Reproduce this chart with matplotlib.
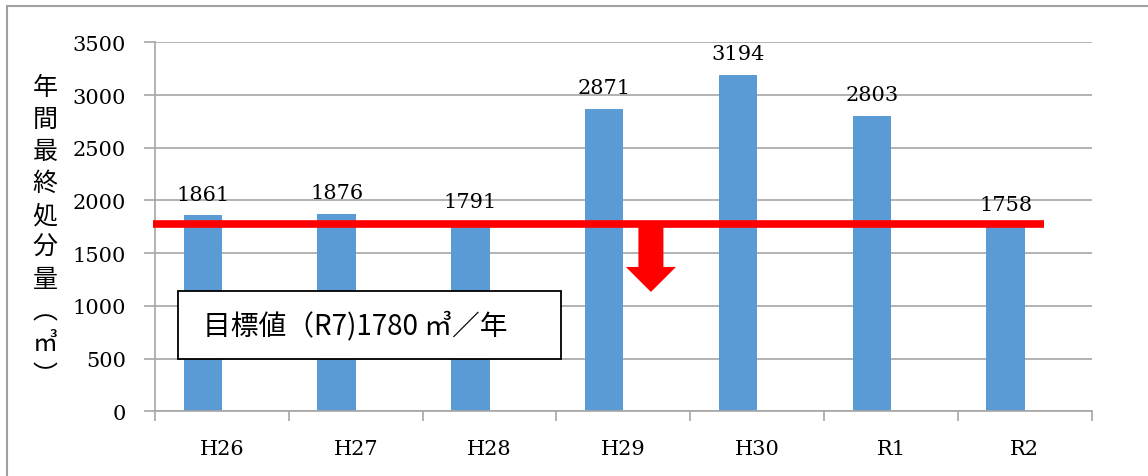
import matplotlib
matplotlib.use("Agg")
import matplotlib.pyplot as plt
from matplotlib.patches import Rectangle
import numpy as np

categories = ["H26", "H27", "H28", "H29", "H30", "R1", "R2"]
values = [1861, 1876, 1791, 2871, 3194, 2803, 1758]
target = 1780
target_text = "目標値（R7)1780 ㎥／年"
ylabel_chars = ["年", "間", "最", "終", "処", "分", "量", "︵", "㎥", "︶"]
yticks = [0, 500, 1000, 1500, 2000, 2500, 3000, 3500]

SERIF = ["DejaVu Serif"]
CJK = ["Noto Sans CJK JP", "DejaVu Sans"]

fig = plt.figure(figsize=(11.48, 4.77), dpi=100)
ax = fig.add_axes([155/1148, 1-412.3/477, (1091.7-155)/1148, (412.3-43.3)/477])

x = np.arange(len(categories))
bw = 0.287
ax.bar(x, values, width=-bw, align="edge", color="#5b9bd5", zorder=2)
for xi, v in zip(x, values):
    ax.text(xi - bw/2, v + 110, str(v), ha="center", va="bottom",
            fontsize=15, family=SERIF, color="black", zorder=5)

ax.set_xlim(-0.5, len(categories) - 0.5)
ax.set_ylim(0, 3500)
ax.set_yticks(yticks)
ax.set_yticklabels([str(t) for t in yticks], family=SERIF, fontsize=15)
ax.set_xticks(np.arange(len(categories) + 1) - 0.5)
ax.set_xticklabels([])
ax.set_xticks(x, minor=True)
ax.set_xticklabels(categories, minor=True, family=SERIF, fontsize=15)
ax.tick_params(axis="x", which="major", length=7, color="#a6a6a6", width=1.2)
ax.tick_params(axis="x", which="minor", length=0, pad=20)
ax.tick_params(axis="y", length=8, color="#a6a6a6", width=1.2, pad=13)
ax.yaxis.grid(True, color="#a6a6a6", lw=1.2, zorder=0)
ax.set_axisbelow(True)
for s in ["top", "right"]:
    ax.spines[s].set_visible(False)
for s in ["left", "bottom"]:
    ax.spines[s].set_color("#a6a6a6")
    ax.spines[s].set_linewidth(1.2)

# target line
ax.plot([-0.515, 6.14], [target, target], color="#ff0000", lw=5.5,
        solid_capstyle="butt", zorder=4, clip_on=False)
# arrow
ax.arrow(3.206, target, 0, 1132 - target, width=0.187, head_width=0.374,
         head_length=237, length_includes_head=True, color="#ff0000",
         lw=0, zorder=4)
# target box
ax.add_patch(Rectangle((-0.328, 496), 2.537 + 0.328, 1141 - 496,
                       facecolor="white", edgecolor="black", lw=1.3, zorder=6))
ax.text(-0.145, (496 + 1141)/2, target_text, ha="left", va="center",
        fontsize=20, family=CJK, zorder=7)

# y label (vertical stacked)
fig.text(45/1148, 1 - 232/477, "\n".join(ylabel_chars), ha="center", va="center",
         fontsize=18, family=CJK, linespacing=1.3)

# outer border
fig.patches.append(Rectangle((7/1148, -0.1), 1.2, 1 - 7/477 + 0.1,
                             transform=fig.transFigure, fill=False,
                             edgecolor="#a0a0a0", lw=1.5))

fig.savefig("out.png", dpi=100)
